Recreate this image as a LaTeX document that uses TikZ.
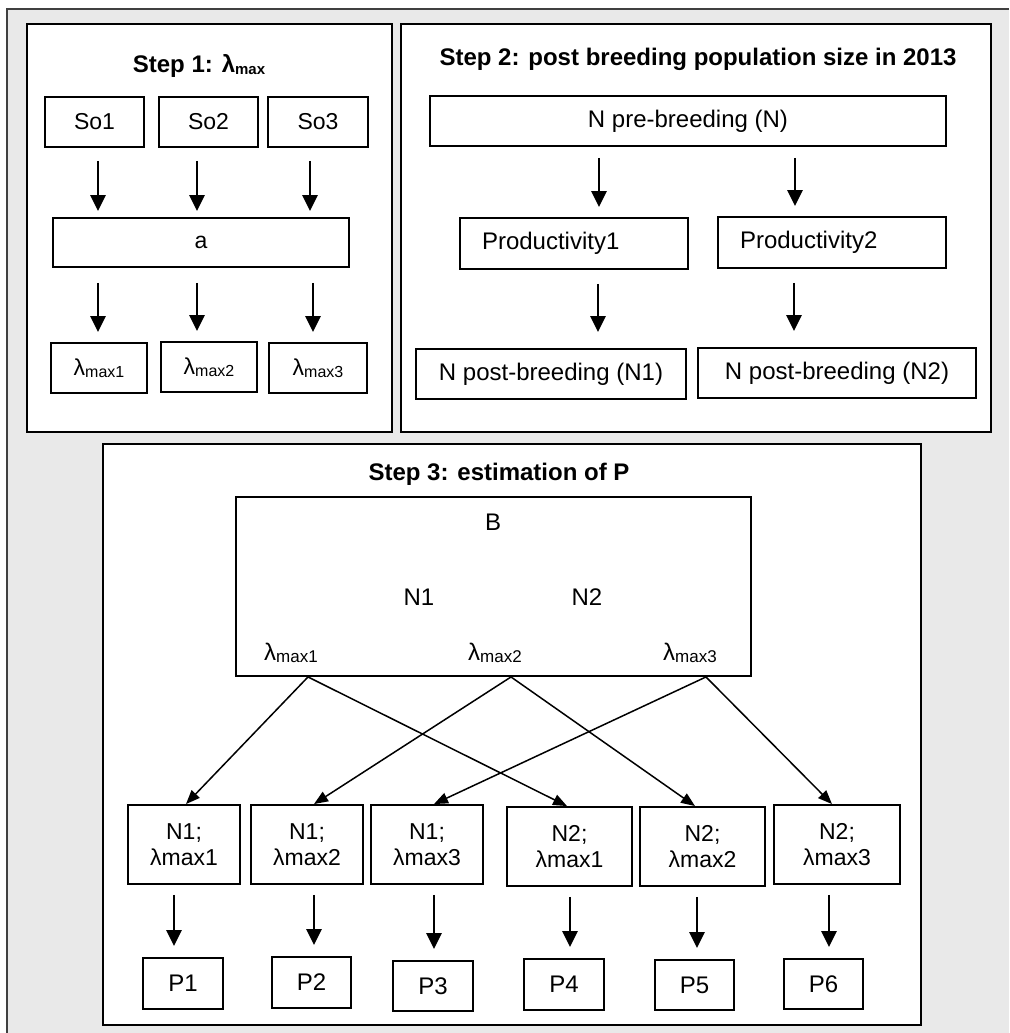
\documentclass[tikz,border=0pt]{standalone}
\usepackage{fontspec}
\setmainfont{Liberation Sans}
\usetikzlibrary{arrows.meta,calc}
\newcommand{\fa}{\fontsize{23}{26}\selectfont}
\newcommand{\fb}{\fontsize{24}{27}\selectfont}
\newcommand{\fc}{\fontsize{23}{26}\selectfont}
\newcommand{\lmx}[2]{λ\raisebox{-0.1em}{\fontsize{#1}{#1}\selectfont #2}}
\begin{document}
\begin{tikzpicture}[x=1pt,y=-1pt,
  frame/.style={draw, line width=2.2pt, fill=white, inner sep=0pt},
  box/.style={draw, line width=1.9pt, fill=white, inner sep=0pt, align=center},
  ttl/.style={font=\bfseries\fb, inner sep=0pt, anchor=base},
  txt/.style={inner sep=0pt, font=\fb},
  varr/.style={line width=2.6pt, -{Triangle[width=15pt,length=16pt]}},
  darr/.style={line width=1.5pt, -{Triangle[width=11pt,length=14pt]}}]
\useasboundingbox (0,0) rectangle (1009,1033);
\fill[gray!17] (7,9) rectangle (1009,1033);
\draw[line width=1.5pt, black!75] (1009,9) -- (7,9) -- (7,1033);

% ---------- Step 1 ----------
\node[frame, minimum width=365pt, minimum height=408pt] (F1) at (209.5,228) {};
\node[ttl] (T1) at (199,72) {Step 1: \lmx{15}{max}};
\node[box, font=\fa, minimum width=99pt, minimum height=50pt] (So1) at (94.5,122) {So1};
\node[box, font=\fa, minimum width=99pt, minimum height=50pt] (So2) at (208.5,122) {So2};
\node[box, font=\fa, minimum width=100pt, minimum height=50pt] (So3) at (318,122) {So3};
\node[box, font=\fa, minimum width=296pt, minimum height=49pt] (a) at (201,242.5) {a};
\node[box, font=\fa, minimum width=96pt, minimum height=50pt] (L1) at (99,368) {\lmx{16}{max1}};
\node[box, font=\fa, minimum width=96pt, minimum height=50pt] (L2) at (209,367) {\lmx{16}{max2}};
\node[box, font=\fa, minimum width=98pt, minimum height=50pt] (L3) at (318,368) {\lmx{16}{max3}};

\draw[varr, shorten <=13pt, shorten >=6pt] ([xshift=3.5pt]So1.south) -- ([xshift=3.5pt]So1.south |- a.north);
\draw[varr, shorten <=13pt, shorten >=6pt] ([xshift=-11.5pt]So2.south) -- ([xshift=-11.5pt]So2.south |- a.north);
\draw[varr, shorten <=13pt, shorten >=6pt] ([xshift=-8pt]So3.south) -- ([xshift=-8pt]So3.south |- a.north);
\draw[varr, shorten <=15pt, shorten >=10pt] ([xshift=-1pt]L1.north |- a.south) -- ([xshift=-1pt]L1.north);
\draw[varr, shorten <=15pt, shorten >=10pt] ([xshift=-12pt]L2.north |- a.south) -- ([xshift=-12pt]L2.north);
\draw[varr, shorten <=15pt, shorten >=10pt] ([xshift=-5pt]L3.north |- a.south) -- ([xshift=-5pt]L3.north);

% ---------- Step 2 ----------
\node[frame, minimum width=590pt, minimum height=408pt] (F2) at (696,228) {};
\node[ttl] (T2) at (698,66) {Step 2: post breeding population size in 2013};
\node[box, font=\fb, minimum width=516pt, minimum height=50pt] (NPre) at (688,121) {N pre-breeding (N)};
\node[box, font=\fb, minimum width=228pt, minimum height=51pt, text width=184pt, align=left, inner xsep=22pt] (Prod1) at (574,243.5) {Productivity1};
\node[box, font=\fb, minimum width=228pt, minimum height=51pt, text width=184pt, align=left, inner xsep=22pt] (Prod2) at (832,242.5) {Productivity2};
\node[box, font=\fb, minimum width=270pt, minimum height=50pt] (NP1) at (551,374) {N post-breeding (N1)};
\node[box, font=\fb, minimum width=278pt, minimum height=50pt] (NP2) at (837,373) {N post-breeding (N2)};

\draw[varr, shorten <=11pt, shorten >=10pt] ([xshift=25pt]Prod1.north |- NPre.south) -- ([xshift=25pt]Prod1.north);
\draw[varr, shorten <=11pt, shorten >=10pt] ([xshift=-37pt]Prod2.north |- NPre.south) -- ([xshift=-37pt]Prod2.north);
\draw[varr, shorten <=14pt, shorten >=16pt] ([xshift=47pt]NP1.north |- Prod1.south) -- ([xshift=47pt]NP1.north);
\draw[varr, shorten <=14pt, shorten >=16pt] ([xshift=-43pt]NP2.north |- Prod2.south) -- ([xshift=-43pt]NP2.north);

% ---------- Step 3 ----------
\node[frame, minimum width=818pt, minimum height=581pt] (F3) at (512,734.5) {};
\node[ttl] (T3) at (499,480) {Step 3: estimation of P};
\node[box, minimum width=515pt, minimum height=179pt] (B) at (493.5,586.5) {};
\node[txt] (Bl) at (493,522) {B};
\node[txt] (BN1) at (419,597) {N1};
\node[txt] (BN2) at (587,597) {N2};
\node[txt] (BL1) at (291,653) {\lmx{17}{max1}};
\node[txt] (BL2) at (495,653) {\lmx{17}{max2}};
\node[txt] (BL3) at (690,653) {\lmx{17}{max3}};
\coordinate (s1) at ([xshift=-185.5pt]B.south);
\coordinate (s2) at ([xshift=17.5pt]B.south);
\coordinate (s3) at ([xshift=212.5pt]B.south);

\node[box, font=\fc, minimum width=112pt, minimum height=79pt] (NA1) at (184,844.5) {N1;\\λmax1};
\node[box, font=\fc, minimum width=112pt, minimum height=79pt] (NA2) at (307,844.5) {N1;\\λmax2};
\node[box, font=\fc, minimum width=112pt, minimum height=79pt] (NA3) at (427,844.5) {N1;\\λmax3};
\node[box, font=\fc, minimum width=125pt, minimum height=79pt] (NB1) at (569.5,846.5) {N2;\\λmax1};
\node[box, font=\fc, minimum width=125pt, minimum height=79pt] (NB2) at (702.5,846.5) {N2;\\λmax2};
\node[box, font=\fc, minimum width=126pt, minimum height=79pt] (NB3) at (837,844.5) {N2;\\λmax3};

\draw[darr] (s1) -- ([xshift=2pt]NA1.north);
\draw[darr] (s1) -- ([xshift=-2.5pt]NB1.north);
\draw[darr] (s2) -- ([xshift=7pt]NA2.north);
\draw[darr] (s2) -- ([xshift=-7.5pt]NB2.north);
\draw[darr] (s3) -- ([xshift=7pt]NA3.north);
\draw[darr] (s3) -- ([xshift=-5pt]NB3.north);

\node[box, font=\fb, minimum width=80pt, minimum height=51pt] (P1) at (183,983.5) {P1};
\node[box, font=\fb, minimum width=79pt, minimum height=51pt] (P2) at (311.5,982.5) {P2};
\node[box, font=\fb, minimum width=80pt, minimum height=50pt] (P3) at (433,986) {P3};
\node[box, font=\fb, minimum width=80pt, minimum height=51pt] (P4) at (564,984.5) {P4};
\node[box, font=\fb, minimum width=79pt, minimum height=50pt] (P5) at (694.5,985) {P5};
\node[box, font=\fb, minimum width=79pt, minimum height=50pt] (P6) at (823.5,984) {P6};

\draw[varr, shorten <=10pt, shorten >=11pt] ([xshift=-10pt]NA1.south) -- ([xshift=-10pt]NA1.south |- P1.north);
\draw[varr, shorten <=10pt, shorten >=11pt] ([xshift=7pt]NA2.south) -- ([xshift=7pt]NA2.south |- P2.north);
\draw[varr, shorten <=10pt, shorten >=11pt] ([xshift=7pt]NA3.south) -- ([xshift=7pt]NA3.south |- P3.north);
\draw[varr, shorten <=10pt, shorten >=11pt] ([xshift=0.5pt]NB1.south) -- ([xshift=0.5pt]NB1.south |- P4.north);
\draw[varr, shorten <=10pt, shorten >=11pt] ([xshift=-5.5pt]NB2.south) -- ([xshift=-5.5pt]NB2.south |- P5.north);
\draw[varr, shorten <=10pt, shorten >=11pt] ([xshift=-8pt]NB3.south) -- ([xshift=-8pt]NB3.south |- P6.north);
\end{tikzpicture}
\end{document}
